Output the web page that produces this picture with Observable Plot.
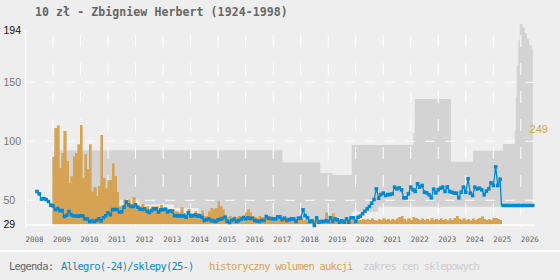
<!DOCTYPE html>
<html><head><meta charset="utf-8">
<script src="https://cdn.jsdelivr.net/npm/d3@7"></script>
<script src="https://cdn.jsdelivr.net/npm/@observablehq/plot@0.6"></script>
<style>
html,body{margin:0;padding:0;background:#eeeeee;width:560px;height:280px;overflow:hidden}
#title{height:24px;line-height:24px;padding-left:35px;font-weight:bold;font-size:11.5px;font-family:"DejaVu Sans Mono",monospace;color:#666;white-space:nowrap;letter-spacing:0.1px}
#chart svg{display:block;overflow:visible}
#legend{position:relative;border-top:2px solid #fff;height:28px;font-family:"DejaVu Sans Mono",monospace;font-size:10.5px;letter-spacing:-0.8px;white-space:nowrap}
#legend span{position:absolute;top:0;line-height:29px}
</style>
</head><body>
<div id="title">10 zł - Zbigniew Herbert (1924-1998)</div>
<div id="chart"></div>
<div id="legend">
  <span style="left:9px;color:#666">Legenda:</span>
  <span style="left:61px;color:#0a88cc">Allegro(-24)/sklepy(25-)</span>
  <span style="left:209px;color:#d9a552">historyczny wolumen aukcji</span>
  <span style="left:363px;color:#cccccc">zakres cen sklepowych</span>
</div>
<script>
// ---- data ----
const yTickValues = [29, 50, 100, 150, 194];
const yearTicks = ["2008","2009","2010","2011","2012","2013","2014","2015","2016","2017","2018","2019","2020","2021","2022","2023","2024","2025","2026"];

// monthly Allegro prices (from 2008-06)
const allegroStart = "2008-06-01";
const allegroValues = [
57.4,55.4,50.9,51.4,50.6,48.9,45.8,45.2,42.1,43.0,
41.3,41.3,36.2,37.3,40.4,37.6,36.8,36.5,36.5,36.8,
36.5,34.2,34.2,32.0,32.5,32.0,32.8,34.2,32.5,35.1,
36.8,39.3,37.6,42.1,42.1,42.1,40.1,40.1,44.1,48.6,
46.1,44.7,44.7,46.1,44.1,42.4,42.1,42.7,40.7,39.6,
41.3,42.7,42.7,39.9,41.8,42.1,42.4,40.1,41.0,40.7,
37.0,36.8,36.8,36.8,36.8,35.6,39.3,36.8,36.8,37.6,
36.5,36.8,
35.6,32.8,33.5,34.2,32.8,32.4,32.0,33.4,34.0,34.5,
35.6,32.2,31.1,32.8,33.9,32.0,32.8,34.0,35.1,34.2,
35.1,34.6,34.5,32.8,32.4,32.0,32.8,32.8,36.2,34.8,
34.5,34.2,34.2,35.9,35.9,33.4,34.8,32.8,33.5,34.2,
34.2,32.0,34.8,34.8,41.8,37.0,35.1,32.0,32.5,28.6,
35.1,31.4,32.0,32.0,32.5,32.0,35.1,32.0,34.2,33.4,
31.4,32.5,31.4,34.2,31.4,35.1,35.1,32.0,35.6,36.5,
38.5,40.6,42.7,44.7,47.5,50.6,59.6,51.7,54.8,56.0,
54.0,54.8,54.8,55.4,61.1,59.6,60.5,58.8,52.0,52.0,
55.4,61.1,58.8,57.4,63.9,61.1,62.5,56.8,56.2,54.6,
52.0,59.4,56.2,58.8,60.2,61.1,57.4,61.3,57.4,56.8,
56.0,56.0,52.0,56.8,61.1,56.8,68.1,56.0,54.0,61.1,
59.6,60.2,58.8,54.6,57.7,59.6,64.7,62.5,78.3,62.5,67.8
];

// shop prices (2025-)
const shopDates = ["2025-04-20", "2026-07-01"];
const shopValues = [45.5, 45.5];

// monthly auction volume (from 2009-01), drawn on the same axis
const volumeStart = "2009-01-01";
const volumeValues = [
85.9,110.5,112.5,76.6,89.3,108.2,82.8,63.9,69.5,86.5,
89.3,96.4,113.3,68.1,87.9,75.7,96.4,56.8,60.5,53.1,
61.6,104.8,68.1,59.1,66.1,66.7,80.3,70.1,56.5,44.1,
44.7,49.8,46.1,49.8,46.1,52.0,45.5,44.1,44.1,46.1,
41.3,44.1,41.3,44.1,41.3,44.1,41.3,45.5,41.3,42.7,
41.3,39.9,41.3,39.9,39.9,39.0,43.3,38.5,37.0,41.8,
38.5,37.0,39.9,38.5,
37.0,40.7,36.2,36.2,39.9,42.7,41.3,42.7,48.3,44.1,
41.3,37.0,35.1,36.2,33.9,35.6,35.1,36.2,34.2,36.8,
39.0,41.3,39.0,36.2,35.1,34.2,36.2,35.1,33.9,35.6,
34.8,33.4,35.1,34.2,35.6,33.9,35.1,33.4,34.8,33.9,
32.8,33.9,33.4,32.5,33.4,32.2,32.8,31.7,32.5,32.0,
32.8,31.7,32.5,32.8,32.0,39.0,32.8,32.2,37.9,32.8,
32.0,33.4,31.7,32.8,32.2,33.4,32.0,32.8,33.4,32.2,
32.8,33.4,32.8,
33.4,32.5,33.9,32.8,32.2,33.4,32.8,33.9,32.5,33.4,
32.2,33.4,32.8,33.9,35.1,36.2,33.4,32.2,33.9,32.8,
35.1,34.2,33.4,32.5,33.9,32.8,33.4,32.2,33.9,32.8,
33.4,32.5,33.9,32.8,33.4,32.2,33.9,32.8,34.5,36.2,
33.4,32.5,33.9,32.8,33.4,32.2,33.9,32.8,33.4,34.2,
35.6,33.4,32.5,33.4,32.8,34.2,34.2,33.4,32.8
];

// shop price range band
const bandDates = ["2009-01-01","2011-06-10","2012-03-01","2013-06-01","2014-05-01","2017-05-10","2018-09-25","2019-03-15","2019-11-15","2020-10-30","2022-02-10","2022-03-03","2023-06-25","2024-04-15","2025-05-15","2025-10-20","2025-11-02","2025-11-15","2025-12-05","2025-12-25","2026-02-01","2026-03-01","2026-04-01","2026-05-01","2026-06-01","2026-06-17"];
const bandLow  = [30,50,46,43,30,30,30,30,39.8,44.1,44.1,44.1,44.1,44.1,44.1,44.1,44.1,44.1,44.1,44.1,44.1,44.1,44.1,44.1,44.1,44.1];
const bandHigh = [92,92,92,92,92,81.6,72.6,71,96.4,96.4,106.5,135.4,82.2,91.5,97.2,109,137,164,185,199,196,191,186,181,178,178];

// annotation
const annotLabels = ["249"];
const annotDates = ["2026-04-28"];
const annotValues = [110];

// ---- build tables ----
const parse = d3.utcParse("%Y-%m-%d");
const aStart = parse(allegroStart);
const allegro = allegroValues.map((v, i) => ({date: d3.utcMonth.offset(aStart, i), v}));
const shop = shopDates.map((d, i) => ({date: parse(d), v: shopValues[i]}));
const allegroLine = allegro.concat([shop[0]]);
const vStart = parse(volumeStart);
const volume = volumeValues.map((v, i) => ({date: d3.utcMonth.offset(vStart, i), end: d3.utcMonth.offset(vStart, i + 1), v}));
const band = bandDates.map((d, i) => ({date: parse(d), low: bandLow[i], high: bandHigh[i]}));
const years = yearTicks.map(y => parse(y + "-01-01"));
const annot = annotLabels.map((t, i) => ({label: t, date: parse(annotDates[i]), v: annotValues[i]}));
const gridY = yTickValues.slice(1, -1);

const blue = "#0288d1", orange = "#d6a354";
const x0 = parse("2008-01-01"), x1 = parse("2026-07-15");

const chart = Plot.plot({
  width: 560, height: 226,
  marginLeft: 25, marginRight: 25, marginTop: 5.8, marginBottom: 25.5,
  style: {background: "transparent", overflow: "visible"},
  x: {type: "utc", domain: [x0, x1], axis: null},
  y: {domain: [29, 194], axis: null},
  marks: [
    Plot.areaY(band, {x: "date", y1: "low", y2: "high", curve: "step-after", fill: "#d3d3d3"}),
    Plot.ruleY(gridY, {stroke: "#fff", strokeDasharray: "10,10"}),
    Plot.ruleX(years.slice(1), {stroke: "#fff", strokeDasharray: "12,16", strokeDashoffset: 22.8}),
    Plot.rect(volume, {x1: "date", x2: "end", y1: 29, y2: "v", fill: orange, stroke: orange, strokeWidth: 0.6, shapeRendering: "crispEdges"}),
    Plot.ruleX([x0], {stroke: "#fff"}),
    Plot.ruleY([29], {stroke: "#fff", strokeWidth: 1.5}),
    Plot.line(allegroLine, {x: "date", y: "v", stroke: blue, strokeWidth: 1.3}),
    Plot.line(shop, {x: "date", y: "v", stroke: blue, strokeWidth: 3.6, strokeLinecap: "butt"}),
    Plot.dot(allegro, {x: "date", y: "v", symbol: "square", r: 2, fill: blue}),
    Plot.axisX(years, {tickFormat: d3.utcFormat("%Y"), textAnchor: "start", tickSize: 3, tickPadding: 9, stroke: "#fff", fill: "#666", fontSize: 7.5, fontFamily: "DejaVu Sans Mono", label: null}),
    Plot.text(yTickValues.filter(d => d === 29 || d === 194), {y: d => d, frameAnchor: "left", dx: -22, textAnchor: "start", fill: "#111", fontSize: 10.5, fontFamily: "Liberation Sans"}),
    Plot.text(gridY, {y: d => d, frameAnchor: "left", dx: -22, textAnchor: "start", fill: "#777", fontSize: 10.5, fontFamily: "Liberation Sans"}),
    Plot.text(annot, {x: "date", y: "v", text: "label", textAnchor: "start", fill: orange, fontSize: 11, fontFamily: "Liberation Sans"})
  ]
});
document.getElementById("chart").append(chart);
</script>
</body></html>
